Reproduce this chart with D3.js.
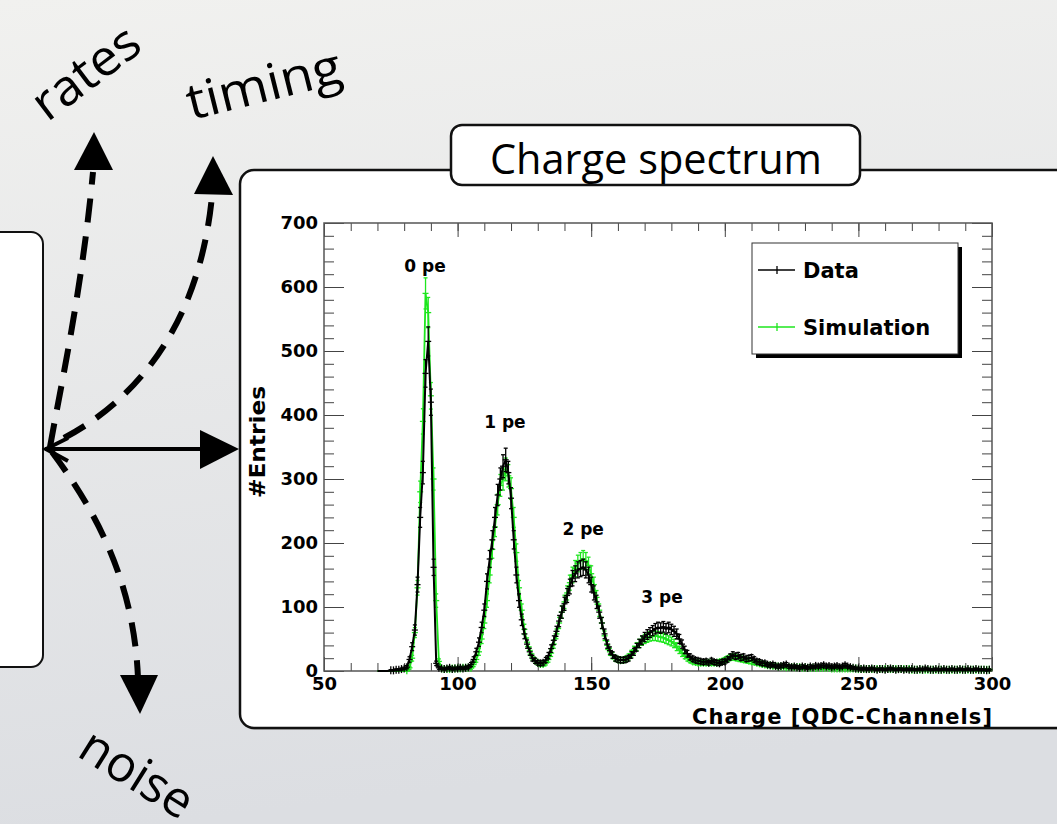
<!DOCTYPE html>
<html>
<head>
<meta charset="utf-8">
<script src="https://cdn.jsdelivr.net/npm/d3@7"></script>
<style>
  html, body { margin: 0; padding: 0; overflow: hidden; }
  svg { display: block; }
  .axis text { font-family: "DejaVu Sans", sans-serif; font-weight: bold; font-size: 18px; fill: #000; }
  .axis line { stroke: #444; }
</style>
</head>
<body>
<div id="chart"></div>
<script>
// Histogram bins: one QDC channel per bin, starting at firstChannel
const firstChannel = 70;

const dataCounts = [
  0, 0, 0, 0, 0, 1, 1, 2, 2, 3,
  4, 6, 18, 38, 64, 135, 240, 310, 465, 515,
  420, 162, 12, 5, 4, 3, 4, 5, 3, 4,
  4, 5, 4, 5, 6, 10, 18, 30, 45, 68,
  95, 140, 175, 205, 240, 275, 300, 320, 330, 310,
  270, 205, 150, 110, 80, 58, 42, 30, 20, 16,
  13, 12, 13, 17, 24, 35, 48, 62, 78, 92,
  105, 118, 132, 145, 152, 158, 160, 162, 158, 150,
  135, 122, 108, 92, 75, 58, 42, 32, 25, 20,
  18, 17, 17, 18, 20, 25, 30, 37, 43, 48,
  53, 57, 60, 63, 66, 68, 67, 69, 66, 68,
  65, 62, 58, 50, 42, 33, 27, 22, 19, 17,
  16, 15, 14, 15, 13, 16, 14, 13, 12, 14,
  15, 18, 22, 25, 23, 24, 21, 22, 19, 20,
  21, 18, 15, 14, 12, 12, 10, 9, 10, 8,
  7, 8, 9, 10, 7, 6, 7, 6, 5, 7,
  6, 5, 7, 6, 8, 7, 8, 9, 7, 8,
  6, 7, 8, 6, 7, 9, 7, 6, 5, 4,
  4, 3, 4, 3, 3, 4, 3, 2, 3, 3,
  2, 3, 4, 3, 2, 3, 3, 2, 3, 2,
  3, 2, 2, 3, 2, 4, 3, 2, 2, 3,
  2, 2, 3, 2, 2, 3, 2, 2, 3, 2,
  2, 3, 2, 2, 3, 2, 2, 2, 1, 2
];

const simCounts = [
  0, 0, 0, 0, 0, 0, 0, 0, 0, 0,
  0, 1, 5, 20, 60, 130, 280, 390, 590, 560,
  430, 300, 110, 15, 4, 3, 3, 3, 4, 4,
  4, 4, 5, 5, 5, 5, 10, 18, 30, 50,
  75, 110, 150, 190, 225, 260, 290, 300, 315, 305,
  285, 240, 185, 130, 95, 65, 45, 32, 22, 16,
  13, 11, 11, 13, 18, 28, 42, 58, 75, 92,
  108, 122, 138, 150, 160, 168, 172, 175, 172, 165,
  152, 135, 115, 95, 75, 55, 40, 30, 24, 20,
  18, 17, 17, 19, 22, 27, 33, 38, 43, 47,
  50, 52, 54, 55, 55, 54, 53, 52, 50, 48,
  46, 43, 38, 33, 28, 24, 20, 17, 15, 14,
  13, 13, 13, 13, 13, 13, 13, 13, 14, 15,
  17, 19, 21, 22, 21, 20, 19, 18, 17, 16,
  15, 14, 13, 12, 11, 10, 9, 9, 8, 8,
  7, 7, 7, 6, 6, 6, 6, 6, 6, 5,
  5, 5, 5, 5, 5, 5, 5, 5, 5, 5,
  4, 4, 4, 4, 4, 4, 4, 4, 4, 4,
  3, 3, 3, 3, 3, 3, 3, 3, 3, 3,
  3, 3, 3, 3, 3, 3, 3, 3, 3, 3,
  2, 2, 2, 2, 2, 2, 2, 2, 2, 2,
  2, 2, 2, 2, 2, 2, 2, 2, 2, 2,
  2, 2, 2, 2, 2, 2, 2, 2, 2, 2
];

const xTicks = [50, 100, 150, 200, 250, 300];
const yTicks = [0, 100, 200, 300, 400, 500, 600, 700];
const legendNames = ["Data", "Simulation"];

// peak annotations (channel, entries)
const peakNames = ["0 pe", "1 pe", "2 pe", "3 pe"];
const peakChannels = [87.8, 117.7, 147, 176.5];
const peakEntries = [623, 380, 212, 106];

const dataColor = "#000";
const simColor = "#1ee61e";
const handFont = "'Open Sans', 'Noto Sans', sans-serif";
const rootFont = "'DejaVu Sans', sans-serif";

const svg = d3.select("#chart")
  .append("svg")
  .attr("width", 1057)
  .attr("height", 824);

// Background gradient
const defs = svg.append("defs");
const grad = defs.append("linearGradient")
  .attr("id", "bg")
  .attr("x1", 0).attr("y1", 0).attr("x2", 0.15).attr("y2", 1);
grad.append("stop").attr("offset", "0%").attr("stop-color", "#f1f1ef");
grad.append("stop").attr("offset", "100%").attr("stop-color", "#dcdee2");

svg.append("rect")
  .attr("width", 1057).attr("height", 824)
  .attr("fill", "url(#bg)");

// Boxes
svg.append("rect")
  .attr("x", -20).attr("y", 232).attr("width", 63).attr("height", 435)
  .attr("rx", 12)
  .attr("fill", "#fff").attr("stroke", "#111").attr("stroke-width", 2);

svg.append("rect")
  .attr("x", 241).attr("y", 172).attr("width", 900).attr("height", 558)
  .attr("rx", 14)
  .attr("fill", "#bbb");
svg.append("rect")
  .attr("x", 240).attr("y", 170).attr("width", 900).attr("height", 558)
  .attr("rx", 14)
  .attr("fill", "#fff").attr("stroke", "#111").attr("stroke-width", 2.5);

svg.append("rect")
  .attr("x", 451).attr("y", 125).attr("width", 409).attr("height", 60)
  .attr("rx", 11)
  .attr("fill", "#fff").attr("stroke", "#111").attr("stroke-width", 2.5);

svg.append("text")
  .attr("x", 656).attr("y", 174)
  .attr("text-anchor", "middle")
  .attr("font-family", handFont)
  .attr("font-size", 42)
  .attr("textLength", 332)
  .attr("lengthAdjust", "spacingAndGlyphs")
  .text("Charge spectrum");

// Arrows
const arrows = svg.append("g").attr("fill", "none").attr("stroke", "#000");

arrows.append("path")
  .attr("d", "M50,447 C60,390 82,290 93,172")
  .attr("stroke-width", 6)
  .attr("stroke-dasharray", "24 14");
arrows.append("path")
  .attr("d", "M64,438 C140,398 200,320 212,196")
  .attr("stroke-width", 6)
  .attr("stroke-dasharray", "24 14");
arrows.append("path")
  .attr("d", "M52,452 C95,510 134,580 138,678")
  .attr("stroke-width", 6)
  .attr("stroke-dasharray", "24 14");

arrows.append("line")
  .attr("x1", 45).attr("y1", 449).attr("x2", 205).attr("y2", 449)
  .attr("stroke-width", 4);
arrows.append("path")
  .attr("d", "M68,438 L46,449 L68,461")
  .attr("stroke-width", 4);

const heads = svg.append("g").attr("fill", "#000");
heads.append("path").attr("d", "M94,132 L113,170 L74,170 Z");
heads.append("path").attr("d", "M213,156 L233,195 L194,194 Z");
heads.append("path").attr("d", "M140,714 L120,675 L158,675 Z");
heads.append("path").attr("d", "M239,449 L200,430 L200,469 Z");

// Hand labels
const handLabels = svg.append("g")
  .attr("font-family", handFont)
  .attr("font-size", 50)
  .attr("fill", "#000");
handLabels.append("text")
  .attr("transform", "translate(96,86) rotate(-37)")
  .attr("text-anchor", "middle")
  .attr("textLength", 122)
  .attr("lengthAdjust", "spacingAndGlyphs")
  .text("rates");
handLabels.append("text")
  .attr("transform", "translate(268,101) rotate(-14)")
  .attr("text-anchor", "middle")
  .attr("textLength", 158)
  .attr("lengthAdjust", "spacingAndGlyphs")
  .text("timing");
handLabels.append("text")
  .attr("transform", "translate(128,788) rotate(32)")
  .attr("text-anchor", "middle")
  .attr("textLength", 124)
  .attr("lengthAdjust", "spacingAndGlyphs")
  .text("noise");

// Scales
const x = d3.scaleLinear().domain([50, 300]).range([324, 992]);
const y = d3.scaleLinear().domain([0, 700]).range([671, 223]);

const minorX = d3.range(50, 301, 10);
const minorY = d3.range(0, 701, 20);

// Axes (ticks point inwards, ROOT style)
const axes = svg.append("g").attr("class", "axis");
const noDomain = g => g.select(".domain").remove();

axes.append("g").attr("transform", "translate(0,671)")
  .call(d3.axisBottom(x).tickValues(minorX).tickSize(-8).tickFormat("")).call(noDomain);
axes.append("g").attr("transform", "translate(0,671)")
  .call(d3.axisBottom(x).tickValues(xTicks).tickSize(-14).tickPadding(6)).call(noDomain);
axes.append("g").attr("transform", "translate(0,223)")
  .call(d3.axisTop(x).tickValues(minorX).tickSize(-8).tickFormat("")).call(noDomain);
axes.append("g").attr("transform", "translate(0,223)")
  .call(d3.axisTop(x).tickValues(xTicks).tickSize(-14).tickFormat("")).call(noDomain);

axes.append("g").attr("transform", "translate(324,0)")
  .call(d3.axisLeft(y).tickValues(minorY).tickSize(-10).tickFormat("")).call(noDomain);
axes.append("g").attr("transform", "translate(324,0)")
  .call(d3.axisLeft(y).tickValues(yTicks).tickSize(-20).tickPadding(6)).call(noDomain);
axes.append("g").attr("transform", "translate(992,0)")
  .call(d3.axisRight(y).tickValues(minorY).tickSize(-10).tickFormat("")).call(noDomain);
axes.append("g").attr("transform", "translate(992,0)")
  .call(d3.axisRight(y).tickValues(yTicks).tickSize(-20).tickFormat("")).call(noDomain);

// Frame
svg.append("rect")
  .attr("x", x(50)).attr("y", y(700))
  .attr("width", x(300) - x(50)).attr("height", y(0) - y(700))
  .attr("fill", "none").attr("stroke", "#555").attr("stroke-width", 1.5);

// Axis titles
svg.append("text")
  .attr("x", x(300)).attr("y", 724)
  .attr("text-anchor", "end")
  .attr("font-family", rootFont).attr("font-weight", "bold").attr("font-size", 21)
  .attr("textLength", 300)
  .text("Charge [QDC-Channels]");

svg.append("text")
  .attr("transform", "translate(265,442) rotate(-90)")
  .attr("text-anchor", "middle")
  .attr("font-family", rootFont).attr("font-weight", "bold").attr("font-size", 21)
  .attr("textLength", 112)
  .attr("lengthAdjust", "spacingAndGlyphs")
  .text("#Entries");

// Histogram series with sqrt(N) error bars and "+" markers
function drawSeries(counts, color, lineWidth) {
  const pts = counts.map((v, i) => ({ ch: firstChannel + i, v: v }));
  const g = svg.append("g").attr("stroke", color).attr("fill", "none");

  g.append("path")
    .datum(pts)
    .attr("stroke-width", lineWidth)
    .attr("d", d3.line().x(d => x(d.ch)).y(d => y(d.v)));

  const bars = g.selectAll(".pt")
    .data(pts.filter(d => d.v > 0))
    .join("g")
    .attr("class", "pt")
    .attr("stroke-width", 1.3);

  bars.append("line")
    .attr("x1", d => x(d.ch)).attr("x2", d => x(d.ch))
    .attr("y1", d => Math.max(y(d.v - Math.sqrt(d.v)), y(d.v) + 4))
    .attr("y2", d => Math.min(y(d.v + Math.sqrt(d.v)), y(d.v) - 4));
  bars.append("line")
    .attr("x1", d => x(d.ch) - 2).attr("x2", d => x(d.ch) + 2)
    .attr("y1", d => y(d.v + Math.sqrt(d.v))).attr("y2", d => y(d.v + Math.sqrt(d.v)));
  bars.append("line")
    .attr("x1", d => x(d.ch) - 2).attr("x2", d => x(d.ch) + 2)
    .attr("y1", d => y(d.v - Math.sqrt(d.v))).attr("y2", d => y(d.v - Math.sqrt(d.v)));
  bars.append("line")
    .attr("x1", d => x(d.ch) - 3).attr("x2", d => x(d.ch) + 3)
    .attr("y1", d => y(d.v)).attr("y2", d => y(d.v));
}

drawSeries(simCounts, simColor, 1.8);
drawSeries(dataCounts, dataColor, 2);

// Peak labels
svg.append("g")
  .selectAll("text")
  .data(peakNames)
  .join("text")
  .attr("x", (d, i) => x(peakChannels[i]))
  .attr("y", (d, i) => y(peakEntries[i]))
  .attr("text-anchor", "middle")
  .attr("font-family", rootFont).attr("font-weight", "bold").attr("font-size", 17)
  .text(d => d);

// Legend
const legend = svg.append("g");
legend.append("rect")
  .attr("x", 756).attr("y", 247).attr("width", 206).attr("height", 111)
  .attr("fill", "#000");
legend.append("rect")
  .attr("x", 752).attr("y", 243).attr("width", 206).attr("height", 111)
  .attr("fill", "#fff").attr("stroke", "#333").attr("stroke-width", 1);

const entries = legend.selectAll(".entry")
  .data(legendNames)
  .join("g")
  .attr("class", "entry")
  .attr("transform", (d, i) => `translate(0,${270 + i * 57})`);
entries.append("line")
  .attr("x1", 758).attr("x2", 795).attr("y1", 0).attr("y2", 0)
  .attr("stroke", (d, i) => i === 0 ? dataColor : simColor).attr("stroke-width", 1.3);
entries.append("line")
  .attr("x1", 777).attr("x2", 777).attr("y1", -4).attr("y2", 4)
  .attr("stroke", (d, i) => i === 0 ? dataColor : simColor).attr("stroke-width", 1.3);
entries.append("text")
  .attr("x", 803).attr("y", 8)
  .attr("font-family", rootFont).attr("font-weight", "bold").attr("font-size", 21)
  .text(d => d);
</script>
</body>
</html>
